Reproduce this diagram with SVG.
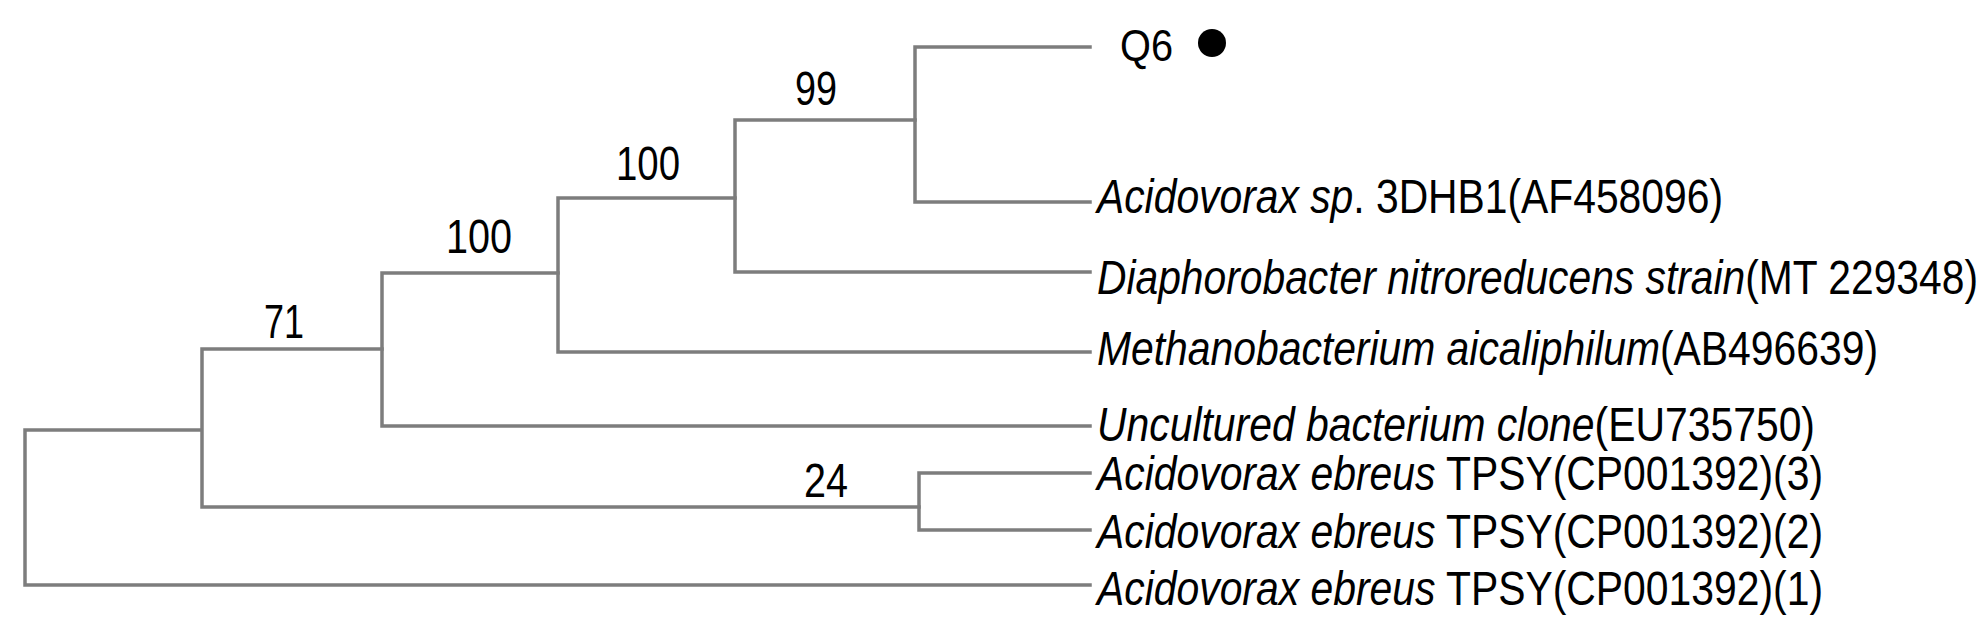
<svg xmlns="http://www.w3.org/2000/svg" width="1984" height="638" viewBox="0 0 1984 638">
<style>
.br{fill:none;stroke:#7d7d7d;stroke-width:3.5;stroke-linecap:square;stroke-linejoin:miter}
.t{font-family:"Liberation Sans Narrow","Liberation Sans",Arial,sans-serif;fill:#000}
.sp{font-size:49px}
.bs{font-size:49px}
.q{font-size:44px}
.i{font-style:italic}
</style>
<rect width="1984" height="638" fill="#ffffff"/>
<g id="connectors">
<path class="br" d="M200 430 H25 V585 H1090"/>
<path class="br" d="M382 349 H202 V507 H919"/>
<path class="br" d="M558 273 H382 V426 H1090"/>
<path class="br" d="M735 198 H558 V352 H1090"/>
<path class="br" d="M915 120 H735 V272 H1090"/>
<path class="br" d="M1090 47 H915 V202 H1090"/>
<path class="br" d="M1090 473 H919 V530 H1090"/>
</g>
<g id="node-71"><text class="t bs" x="264" y="338" textLength="40" lengthAdjust="spacingAndGlyphs">71</text></g>
<g id="node-100a"><text class="t bs" x="446" y="253" textLength="66" lengthAdjust="spacingAndGlyphs">100</text></g>
<g id="node-100b"><text class="t bs" x="616" y="180" textLength="64" lengthAdjust="spacingAndGlyphs">100</text></g>
<g id="node-99"><text class="t bs" x="795" y="105" textLength="42" lengthAdjust="spacingAndGlyphs">99</text></g>
<g id="node-24"><text class="t bs" x="804" y="497" textLength="44" lengthAdjust="spacingAndGlyphs">24</text></g>
<g id="leaf-q6">
<text class="t q" x="1120" y="61" textLength="53" lengthAdjust="spacingAndGlyphs">Q6</text>
<circle cx="1212" cy="43" r="14" fill="#000"/>
</g>
<g id="leaf-acidovorax-sp"><text class="t sp" x="1097" y="213" textLength="626" lengthAdjust="spacingAndGlyphs"><tspan class="i">Acidovorax sp</tspan>. 3DHB1(AF458096)</text></g>
<g id="leaf-diaphorobacter"><text class="t sp" x="1097" y="294" textLength="881" lengthAdjust="spacingAndGlyphs"><tspan class="i">Diaphorobacter nitroreducens strain</tspan>(MT 229348)</text></g>
<g id="leaf-methanobacterium"><text class="t sp" x="1097" y="365" textLength="781" lengthAdjust="spacingAndGlyphs"><tspan class="i">Methanobacterium aicaliphilum</tspan>(AB496639)</text></g>
<g id="leaf-uncultured"><text class="t sp" x="1097" y="441" textLength="718" lengthAdjust="spacingAndGlyphs"><tspan class="i">Uncultured bacterium clone</tspan>(EU735750)</text></g>
<g id="leaf-ebreus-3"><text class="t sp" x="1097" y="490" textLength="726" lengthAdjust="spacingAndGlyphs"><tspan class="i">Acidovorax ebreus</tspan> TPSY(CP001392)(3)</text></g>
<g id="leaf-ebreus-2"><text class="t sp" x="1097" y="548" textLength="726" lengthAdjust="spacingAndGlyphs"><tspan class="i">Acidovorax ebreus</tspan> TPSY(CP001392)(2)</text></g>
<g id="leaf-ebreus-1"><text class="t sp" x="1097" y="605" textLength="726" lengthAdjust="spacingAndGlyphs"><tspan class="i">Acidovorax ebreus</tspan> TPSY(CP001392)(1)</text></g>
</svg>
